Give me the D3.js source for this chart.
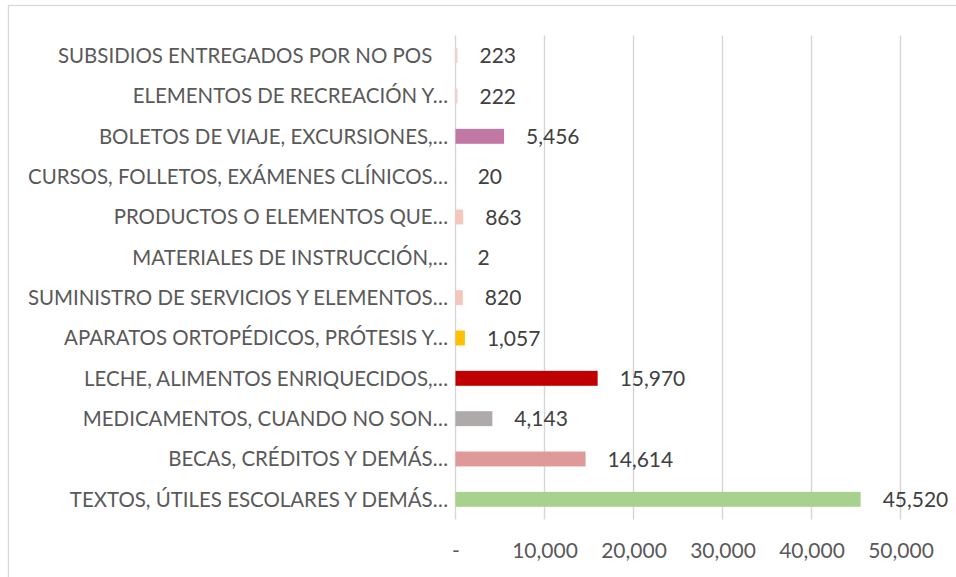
<!DOCTYPE html>
<html>
<head>
<meta charset="utf-8">
<script src="https://cdn.jsdelivr.net/npm/d3@7"></script>
<style>
  html, body { margin: 0; padding: 0; background: #ffffff; }
  svg { display: block; }
  text { font-family: Lato, "Open Sans", sans-serif; white-space: pre; }
</style>
</head>
<body>
<div id="chart"></div>
<script>
const categories = [
  "SUBSIDIOS ENTREGADOS POR NO POS\u00A0\u00A0\u00A0",
  "ELEMENTOS DE RECREACIÓN Y…",
  "BOLETOS DE VIAJE, EXCURSIONES,…",
  "CURSOS, FOLLETOS, EXÁMENES CLÍNICOS…",
  "PRODUCTOS O ELEMENTOS QUE…",
  "MATERIALES DE INSTRUCCIÓN,…",
  "SUMINISTRO DE SERVICIOS Y ELEMENTOS…",
  "APARATOS ORTOPÉDICOS, PRÓTESIS Y…",
  "LECHE, ALIMENTOS ENRIQUECIDOS,…",
  "MEDICAMENTOS, CUANDO NO SON…",
  "BECAS, CRÉDITOS Y DEMÁS…",
  "TEXTOS, ÚTILES ESCOLARES Y DEMÁS…"
];
const values = [223, 222, 5456, 20, 863, 2, 820, 1057, 15970, 4143, 14614, 45520];
const colors = ["#f2cfc9", "#f2cfc9", "#c278a4", "#f4c6bc", "#f4c6bc", "#f4c6bc",
                "#f4c6bc", "#ffc000", "#c00000", "#aeaaaa", "#e09999", "#a9d18e"];
const tickValues = [0, 10000, 20000, 30000, 40000, 50000];
const tickLabels = ["-", "10,000", "20,000", "30,000", "40,000", "50,000"];

const W = 956, H = 577;
const plot = { left: 455.5, right: 900.5, top: 35.5, bottom: 519.5 };

const svg = d3.select("#chart").append("svg")
  .attr("width", W).attr("height", H);

// chart border
svg.append("rect")
  .attr("x", 8.5).attr("y", 5.5)
  .attr("width", W + 20).attr("height", H + 20)
  .attr("fill", "none").attr("stroke", "#d9d9d9").attr("stroke-width", 1.3);

const x = d3.scaleLinear().domain([0, 50000]).range([plot.left, plot.right]);
const y = d3.scaleBand().domain(categories).range([plot.top, plot.bottom]).padding(0);
const barFrac = 0.37;
const barH = y.bandwidth() * barFrac;

// gridlines
svg.append("g").selectAll("line").data(tickValues).join("line")
  .attr("x1", d => x(d)).attr("x2", d => x(d))
  .attr("y1", plot.top).attr("y2", plot.bottom)
  .attr("stroke", "#d6d6d6").attr("stroke-width", 1.4);

// x axis tick labels
const xAxis = d3.axisBottom(x).tickValues(tickValues)
  .tickFormat((d, i) => tickLabels[i]).tickSize(0).tickPadding(0);
const gx = svg.append("g").attr("transform", `translate(0, ${plot.bottom})`).call(xAxis);
gx.select(".domain").remove();
gx.selectAll("text")
  .attr("y", 38.5).attr("dy", null)
  .attr("font-family", "Lato, 'Open Sans', sans-serif")
  .attr("font-size", 21).attr("fill", "#595959");

// bars
svg.append("g").selectAll("rect").data(values).join("rect")
  .attr("x", x(0))
  .attr("y", (d, i) => y(categories[i]) + (y.bandwidth() - barH) / 2)
  .attr("width", d => x(d) - x(0))
  .attr("height", barH)
  .attr("fill", (d, i) => colors[i]);

// category labels
svg.append("g").selectAll("text").data(categories).join("text")
  .attr("x", plot.left - 7.5)
  .attr("y", d => y(d) + y.bandwidth() / 2)
  .attr("dy", "0.36em")
  .attr("text-anchor", "end")
  .attr("font-size", 20.45).attr("fill", "#595959")
  .text(d => d);

// value labels
const fmt = d3.format(",");
svg.append("g").selectAll("text").data(values).join("text")
  .attr("x", d => x(d) + 22)
  .attr("y", (d, i) => y(categories[i]) + y.bandwidth() / 2)
  .attr("dy", "0.36em")
  .attr("font-size", 21).attr("fill", "#404040")
  .text(d => fmt(d));
</script>
</body>
</html>
